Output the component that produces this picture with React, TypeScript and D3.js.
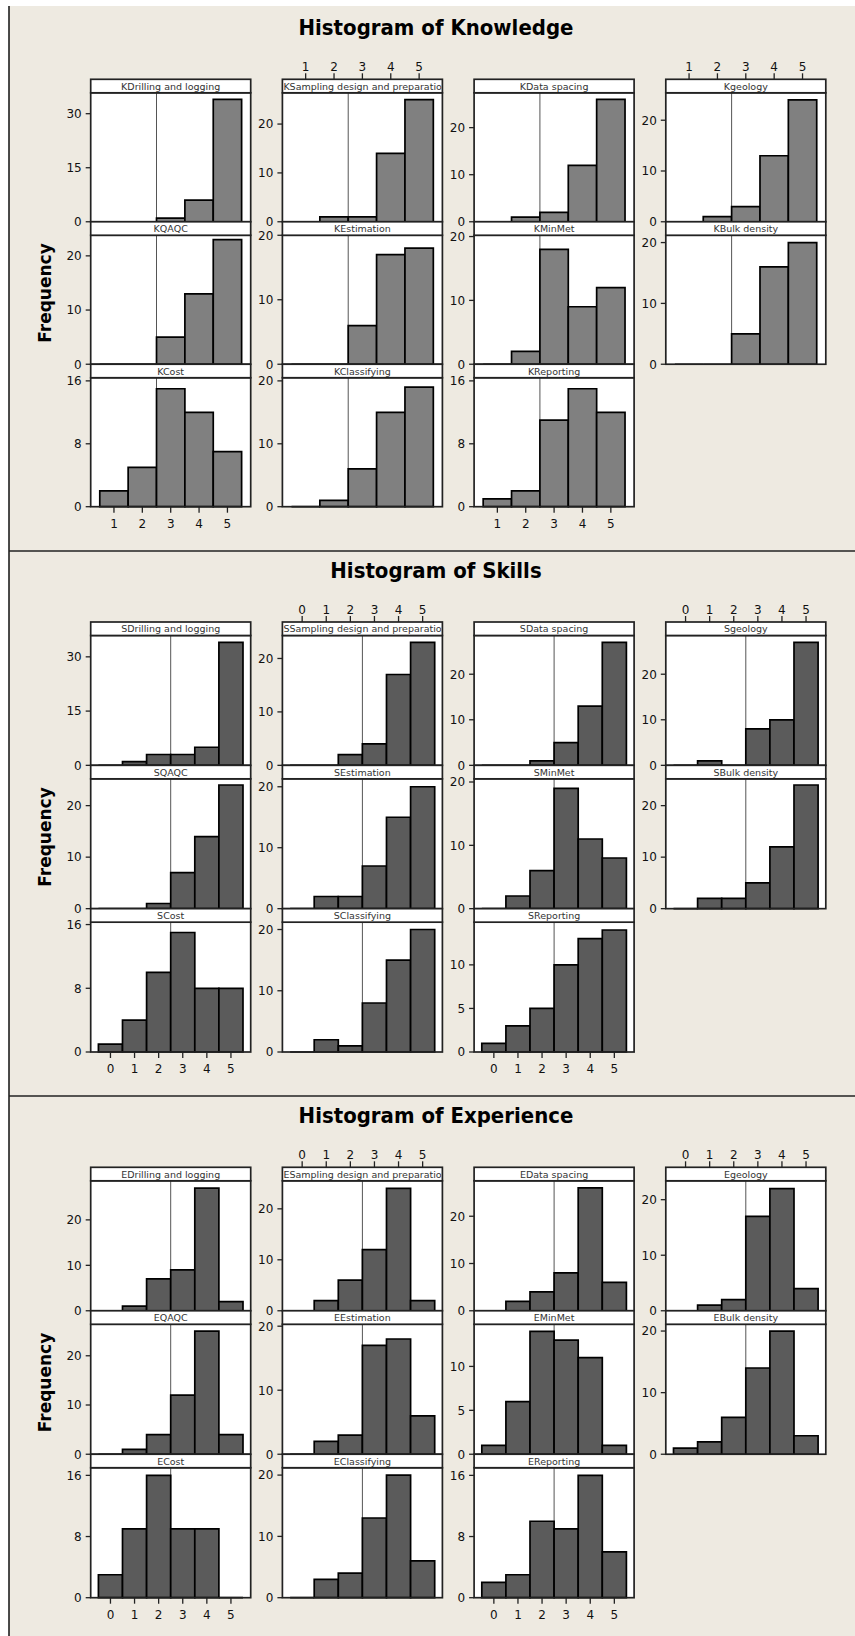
import React from "react";
import * as d3 from "d3";

// survey items, same order in every section
const topics = [
  "Drilling and logging",
  "Sampling design and preparation",
  "Data spacing",
  "geology",
  "QAQC",
  "Estimation",
  "MinMet",
  "Bulk density",
  "Cost",
  "Classifying",
  "Reporting",
];

const knowledgeBins = [1, 2, 3, 4, 5];
const ratingBins = [0, 1, 2, 3, 4, 5];

const knowledgeCounts = [
  [0, 0, 1, 6, 34],
  [0, 1, 1, 14, 25],
  [0, 1, 2, 12, 26],
  [0, 1, 3, 13, 24],
  [0, 0, 5, 13, 23],
  [0, 0, 6, 17, 18],
  [0, 2, 18, 9, 12],
  [0, 0, 5, 16, 20],
  [2, 5, 15, 12, 7],
  [0, 1, 6, 15, 19],
  [1, 2, 11, 15, 12],
];
const skillsCounts = [
  [0, 1, 3, 3, 5, 34],
  [0, 0, 2, 4, 17, 23],
  [0, 0, 1, 5, 13, 27],
  [0, 1, 0, 8, 10, 27],
  [0, 0, 1, 7, 14, 24],
  [0, 2, 2, 7, 15, 20],
  [0, 2, 6, 19, 11, 8],
  [0, 2, 2, 5, 12, 24],
  [1, 4, 10, 15, 8, 8],
  [0, 2, 1, 8, 15, 20],
  [1, 3, 5, 10, 13, 14],
];
const experienceCounts = [
  [0, 1, 7, 9, 27, 2],
  [0, 2, 6, 12, 24, 2],
  [0, 2, 4, 8, 26, 6],
  [0, 1, 2, 17, 22, 4],
  [0, 1, 4, 12, 25, 4],
  [0, 2, 3, 17, 18, 6],
  [1, 6, 14, 13, 11, 1],
  [1, 2, 6, 14, 20, 3],
  [3, 9, 16, 9, 9, 0],
  [0, 3, 4, 13, 20, 6],
  [2, 3, 10, 9, 16, 6],
];

// top of each panel's frequency axis
const knowledgeYTop = [35.8, 26.4, 27.4, 25.4, 23.8, 20.0, 20.2, 21.2, 16.4, 20.5, 16.4];
const skillsYTop = [35.9, 24.3, 28.5, 28.5, 25.2, 21.3, 20.5, 25.2, 16.3, 21.2, 14.9];
const experienceYTop = [28.6, 25.5, 27.5, 23.4, 26.4, 20.3, 14.8, 21.1, 17.0, 21.2, 17.0];

const knowledgeYTicks = [[0, 15, 30], [0, 10, 20], [0, 10, 20], [0, 10, 20], [0, 10, 20], [0, 10, 20], [0, 10, 20], [0, 10, 20], [0, 8, 16], [0, 10, 20], [0, 8, 16]];
const skillsYTicks = [[0, 15, 30], [0, 10, 20], [0, 10, 20], [0, 10, 20], [0, 10, 20], [0, 10, 20], [0, 10, 20], [0, 10, 20], [0, 8, 16], [0, 10, 20], [0, 5, 10]];
const experienceYTicks = [[0, 10, 20], [0, 10, 20], [0, 10, 20], [0, 10, 20], [0, 10, 20], [0, 10, 20], [0, 5, 10], [0, 10, 20], [0, 8, 16], [0, 10, 20], [0, 8, 16]];

const refValue = 2.5;

const sections = [
  { title: "Histogram of Knowledge", prefix: "K", bins: knowledgeBins, counts: knowledgeCounts, yTop: knowledgeYTop, yTicks: knowledgeYTicks, fill: "#808080" },
  { title: "Histogram of Skills", prefix: "S", bins: ratingBins, counts: skillsCounts, yTop: skillsYTop, yTicks: skillsYTicks, fill: "#5b5b5b" },
  { title: "Histogram of Experience", prefix: "E", bins: ratingBins, counts: experienceCounts, yTop: experienceYTop, yTicks: experienceYTicks, fill: "#5b5b5b" },
];

// layout
const W = 855;
const H = 1636;
const BG = "#eeeae1";
const FONT = "'DejaVu Sans', Verdana, sans-serif";
const sectionBoxes = [
  { top: 6, titleY: 35, gridTop: 79.3, gridBottom: 506.7 },
  { top: 551, titleY: 577.5, gridTop: 622, gridBottom: 1052 },
  { top: 1096, titleY: 1123.3, gridTop: 1167.3, gridBottom: 1597.7 },
];
const panelW = 160;
const colStep = 191.7;
const firstCol = 90.7;
const stripH = 13.5;
const xPad = 0.32;

const Panel = ({ id, label, bins, counts, yTop, ticks, x0, top, rowH, topAxis, bottomAxis, fill }) => {
  const plotTop = top + stripH;
  const plotBottom = top + rowH;
  const x = d3
    .scaleLinear()
    .domain([bins[0] - 0.5 - xPad, bins[bins.length - 1] + 0.5 + xPad])
    .range([x0, x0 + panelW]);
  const y = d3.scaleLinear().domain([0, yTop]).range([plotBottom, plotTop]);
  const longLabel = label.length * 5 > panelW - 4;
  return (
    <g>
      <rect x={x0} y={plotTop} width={panelW} height={plotBottom - plotTop} fill="#fff" />
      <line x1={x(refValue)} x2={x(refValue)} y1={plotTop} y2={plotBottom} stroke="#555" strokeWidth={1} />
      {bins.map((b, i) => (
        <path
          key={b}
          d={`M${x(b - 0.5)},${y(0)}V${y(counts[i])}H${x(b + 0.5)}V${y(0)}Z`}
          fill={fill}
          stroke="#000"
          strokeWidth={1.7}
        />
      ))}
      <rect x={x0} y={plotTop} width={panelW} height={plotBottom - plotTop} fill="none" stroke="#222" strokeWidth={1.7} />
      <rect x={x0} y={top} width={panelW} height={stripH} fill="#fff" stroke="#222" strokeWidth={1.7} />
      <clipPath id={id}>
        <rect x={x0 + 0.85} y={top} width={panelW - 1.7} height={stripH} />
      </clipPath>
      <text
        clipPath={`url(#${id})`}
        x={longLabel ? x0 + 1 : x0 + panelW / 2}
        y={top + 10.3}
        textAnchor={longLabel ? "start" : "middle"}
        fontSize={9.5}
        fill="#333"
        fontFamily={FONT}
      >
        {label}
      </text>
      {ticks.map((t) => (
        <g key={t}>
          <line x1={x0 - 5} x2={x0} y1={y(t)} y2={y(t)} stroke="#222" strokeWidth={1.3} />
          <text x={x0 - 9} y={y(t)} dy="0.36em" textAnchor="end" fontSize={12} fill="#111" fontFamily={FONT}>
            {t}
          </text>
        </g>
      ))}
      {topAxis &&
        bins.map((b) => (
          <g key={"t" + b}>
            <line x1={x(b)} x2={x(b)} y1={top - 6} y2={top} stroke="#222" strokeWidth={1.3} />
            <text x={x(b)} y={top - 8.5} textAnchor="middle" fontSize={12} fill="#111" fontFamily={FONT}>
              {b}
            </text>
          </g>
        ))}
      {bottomAxis &&
        bins.map((b) => (
          <g key={"b" + b}>
            <line x1={x(b)} x2={x(b)} y1={plotBottom} y2={plotBottom + 6} stroke="#222" strokeWidth={1.3} />
            <text x={x(b)} y={plotBottom + 21} textAnchor="middle" fontSize={12} fill="#111" fontFamily={FONT}>
              {b}
            </text>
          </g>
        ))}
    </g>
  );
};

const App = () => {
  return (
    <svg width={W} height={H} style={{ position: "absolute", left: 0, top: 0, display: "block" }}>
      <rect x={0} y={0} width={W} height={H} fill="#fff" />
      <rect x={9} y={6} width={W - 9} height={H - 6} fill={BG} />
      <line x1={9} x2={9} y1={6} y2={H} stroke="#111" strokeWidth={1.5} />
      {sectionBoxes.slice(1).map((b) => (
        <line key={b.top} x1={9} x2={W} y1={b.top} y2={b.top} stroke="#222" strokeWidth={1.5} />
      ))}
      {sections.map((s, si) => {
        const box = sectionBoxes[si];
        const rowH = (box.gridBottom - box.gridTop) / 3;
        const midY = (box.gridTop + box.gridBottom) / 2;
        return (
          <g key={s.title}>
            <text
              transform={`translate(436,${box.titleY}) scale(0.92,1)`}
              textAnchor="middle"
              fontSize={21.5}
              fontWeight="bold"
              fill="#000"
              fontFamily={FONT}
            >
              {s.title}
            </text>
            <text
              transform={`translate(51,${midY}) rotate(-90)`}
              textAnchor="middle"
              fontSize={17}
              fontWeight="bold"
              fill="#000"
              fontFamily={FONT}
            >
              Frequency
            </text>
            {topics.map((t, i) => {
              const row = Math.floor(i / 4);
              const col = i % 4;
              return (
                <Panel
                  key={t}
                  id={`clip-${si}-${i}`}
                  label={s.prefix + t}
                  bins={s.bins}
                  counts={s.counts[i]}
                  yTop={s.yTop[i]}
                  ticks={s.yTicks[i]}
                  x0={firstCol + col * colStep}
                  top={box.gridTop + row * rowH}
                  rowH={rowH}
                  topAxis={row === 0 && col % 2 === 1}
                  bottomAxis={row === 2 && col % 2 === 0}
                  fill={s.fill}
                />
              );
            })}
          </g>
        );
      })}
    </svg>
  );
};

export default App;
